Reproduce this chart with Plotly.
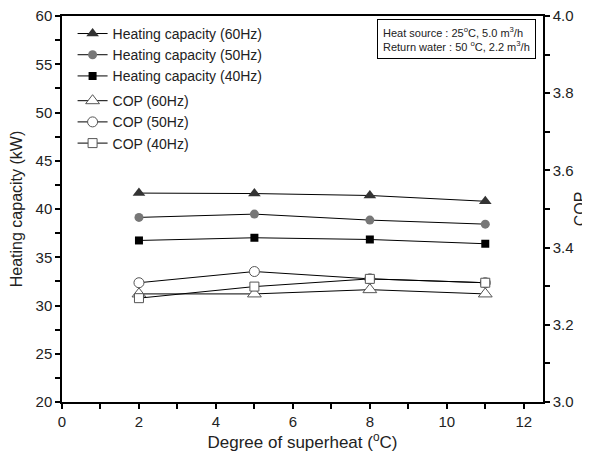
import plotly.graph_objects as go

superheat = [2, 5, 8, 11]
hc_60 = [41.65, 41.6, 41.4, 40.8]
hc_50 = [39.13, 39.47, 38.85, 38.43]
hc_40 = [36.74, 37.02, 36.84, 36.40]
cop_60 = [3.280, 3.280, 3.291, 3.280]
cop_50 = [3.309, 3.338, 3.319, 3.309]
cop_40 = [3.269, 3.299, 3.319, 3.309]

fig = go.Figure()
line = dict(color="black", width=1)

fig.add_trace(go.Scatter(x=superheat, y=hc_60, name="Heating capacity (60Hz)", mode="lines+markers",
                         line=line, legend="legend",
                         marker=dict(symbol="triangle-up", size=11, color="#333333")))
fig.add_trace(go.Scatter(x=superheat, y=hc_50, name="Heating capacity (50Hz)", mode="lines+markers",
                         line=line, legend="legend",
                         marker=dict(symbol="circle", size=9, color="#777777")))
fig.add_trace(go.Scatter(x=superheat, y=hc_40, name="Heating capacity (40Hz)", mode="lines+markers",
                         line=line, legend="legend",
                         marker=dict(symbol="square", size=8, color="#000000")))

open_marker = dict(color="white", line=dict(color="#555555", width=1))
fig.add_trace(go.Scatter(x=superheat, y=cop_60, name="COP (60Hz)", mode="lines+markers", yaxis="y2",
                         line=line, legend="legend2",
                         marker=dict(symbol="triangle-up", size=12, **open_marker)))
fig.add_trace(go.Scatter(x=superheat, y=cop_50, name="COP (50Hz)", mode="lines+markers", yaxis="y2",
                         line=line, legend="legend2",
                         marker=dict(symbol="circle", size=10, **open_marker)))
fig.add_trace(go.Scatter(x=superheat, y=cop_40, name="COP (40Hz)", mode="lines+markers", yaxis="y2",
                         line=line, legend="legend2",
                         marker=dict(symbol="square", size=9, **open_marker)))

font = dict(family="Liberation Sans, Arial, sans-serif", color="#222222")
axis_common = dict(showline=True, linecolor="black", linewidth=1.5, ticks="outside", ticklen=5,
                   tickcolor="black", tickwidth=1.5, showgrid=False, zeroline=False, automargin=False,
                   ticklabeloverflow="allow", tickfont=dict(size=15, **font))
minor_common = dict(ticks="outside", ticklen=5, tickcolor="black", tickwidth=1.5)
legend_common = dict(xanchor="left", yanchor="top", font=dict(size=14, **font), bgcolor="rgba(0,0,0,0)")

# page body adds an 8px offset; figure is sized to fit the 590x459 window
fig.update_layout(
    width=582, height=451,
    margin=dict(l=54, r=47, t=8, b=57),
    plot_bgcolor="white", paper_bgcolor="white",
    font=font,
    showlegend=True,
    legend=dict(x=0.022, y=0.995, **legend_common),
    legend2=dict(x=0.022, y=0.821, **legend_common),
    xaxis=dict(range=[0, 12.5], dtick=2, tick0=0, mirror=True,
               minor=dict(dtick=1, **minor_common),
               title=dict(text="Degree of superheat (<sup>o</sup>C)", font=dict(size=17, **font), standoff=6),
               **axis_common),
    yaxis=dict(range=[20, 60], dtick=5, tick0=20,
               minor=dict(dtick=2.5, **minor_common),
               title=dict(text="Heating capacity (kW)", font=dict(size=16, **font), standoff=10),
               **axis_common),
    yaxis2=dict(range=[3.0, 4.0], dtick=0.2, tick0=3.0, tickformat=".1f", overlaying="y", side="right",
                minor=dict(dtick=0.1, **minor_common),
                title=dict(text="COP", font=dict(size=16, **font), standoff=2),
                **axis_common),
)

fig.add_annotation(
    xref="paper", yref="paper", x=0.985, y=0.992, xanchor="right", yanchor="top",
    text="Heat source : 25<sup>o</sup>C, 5.0 m<sup>3</sup>/h<br>Return water : 50 <sup>o</sup>C, 2.2 m<sup>3</sup>/h",
    showarrow=False, align="left", font=dict(size=11, **font),
    bordercolor="black", borderwidth=1, borderpad=5, bgcolor="white",
)

fig.write_html("out.html")
